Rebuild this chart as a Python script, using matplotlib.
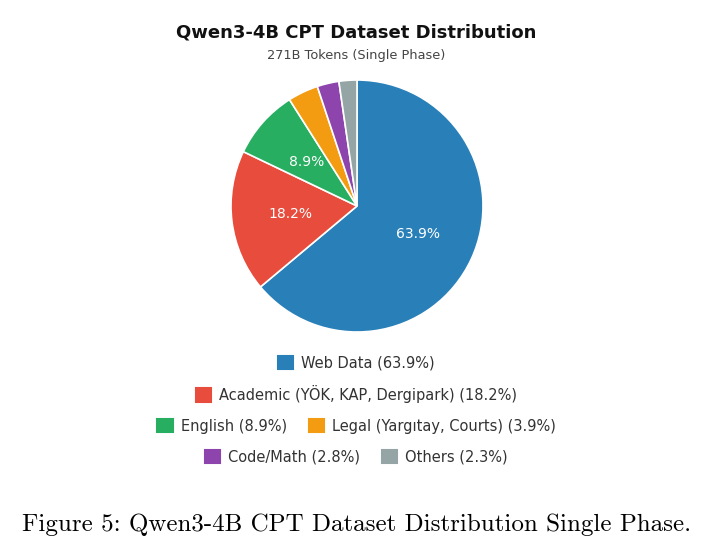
import matplotlib
matplotlib.use("Agg")
import matplotlib.pyplot as plt
from matplotlib.patches import Patch

labels = ["Web Data", "Academic (YÖK, KAP, Dergipark)", "English",
          "Legal (Yargıtay, Courts)", "Code/Math", "Others"]
shares = [63.9, 18.2, 8.9, 3.9, 2.8, 2.3]
colors = ["#2980b9", "#e74c3c", "#27ae60", "#f39c12", "#8e44ad", "#95a5a6"]
legend_rows = [[0], [1], [2, 3], [4, 5]]

plt.rcParams['font.family'] = ['DejaVu Sans']

W, H = 713, 560
fig = plt.figure(figsize=(W / 100, H / 100), dpi=100)

# pie axes: center (357, 206) px, radius 126 px
cx, cy, r = 357, 206, 126
ax = fig.add_axes([(cx - r) / W, (H - cy - r) / H, 2 * r / W, 2 * r / H])


def pct_label(p):
    return f"{p:.1f}%" if p >= 5 else ""


wedges, _, autotexts = ax.pie(
    shares, colors=colors, startangle=90, counterclock=False,
    autopct=pct_label, pctdistance=0.53, radius=1,
    wedgeprops=dict(edgecolor="white", linewidth=1.2),
    textprops=dict(color="white", fontsize=10))
ax.set_xlim(-1, 1)
ax.set_ylim(-1, 1)
ax.axis('off')

fig.text(0.5, 1 - 33 / H, "Qwen3-4B CPT Dataset Distribution", ha="center",
         va="center", fontsize=13, fontweight="bold", color="#111111")
fig.text(0.5, 1 - 55 / H, "271B Tokens (Single Phase)", ha="center",
         va="center", fontsize=9.3, color="#444444")

# legend, one centered row at a time
row_y = [363, 394, 426, 457]
for row, y in zip(legend_rows, row_y):
    handles = [Patch(facecolor=colors[i], edgecolor=colors[i], linewidth=1.5,
                     joinstyle="round", label=f"{labels[i]} ({shares[i]}%)")
               for i in row]
    leg = fig.legend(handles=handles, loc="center",
                     bbox_to_anchor=(0.5, 1 - y / H), ncol=len(row),
                     frameon=False, fontsize=10.5, handlelength=1.05,
                     handleheight=1.05, handletextpad=0.55, columnspacing=1.5,
                     borderpad=0)
    for t in leg.get_texts():
        t.set_color("#333333")

fig.text(0.5, 1 - 525 / H,
         "Figure 5: Qwen3-4B CPT Dataset Distribution Single Phase.",
         ha="center", va="center", fontsize=18, family="cmr10")

fig.savefig("out.png", dpi=100, facecolor="white")
